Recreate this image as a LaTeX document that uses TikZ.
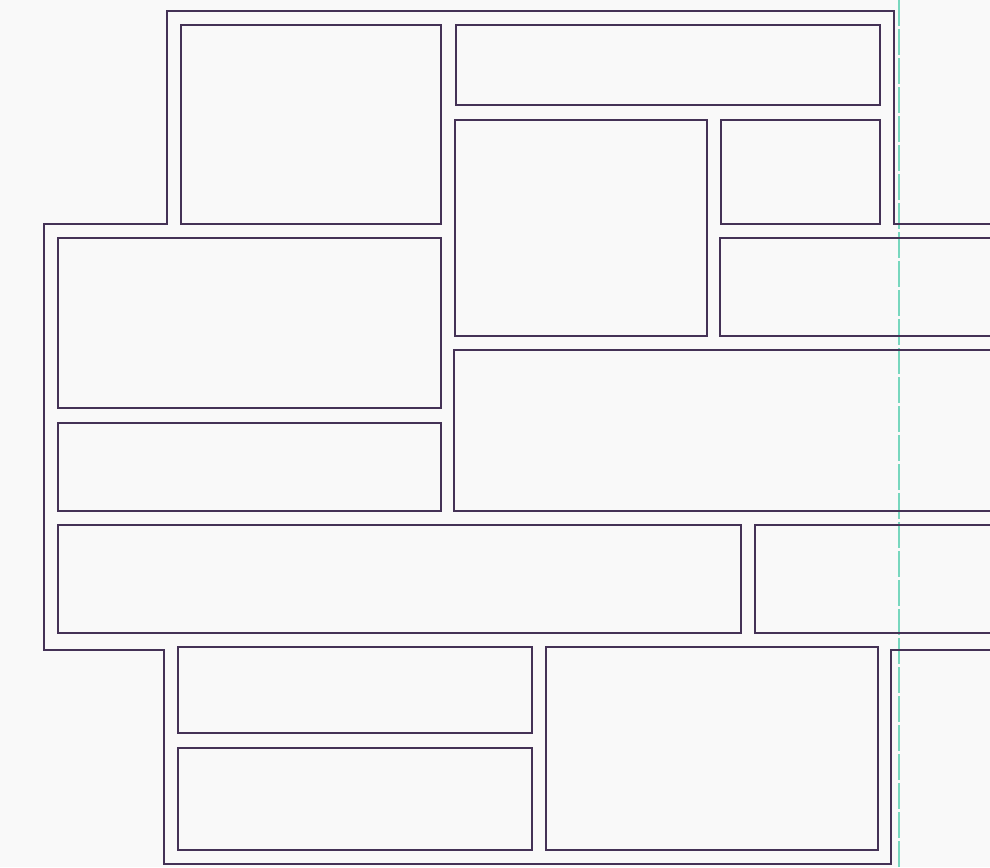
\documentclass[tikz,border=0pt]{standalone}
\usepackage{xcolor}
\definecolor{wall}{RGB}{68,50,86}
\definecolor{paper}{RGB}{249,249,249}
\definecolor{guide}{RGB}{120,215,190}
\begin{document}
\begin{tikzpicture}[x=1pt,y=-1pt,
  wallline/.style={draw=wall,line width=2.7pt,line join=miter},
  room/.style={wallline},
  guideline/.style={draw=guide,line width=1.2pt,dash pattern=on 26pt off 3pt}]
\useasboundingbox (0,0) rectangle (990,867);
\fill[paper] (0,0) rectangle (990,867);
\clip (0,0) rectangle (990,867);
% guide line
\draw[guideline] (899,0) -- (899,867);
% outer outline (right side runs off the picture)
\draw[wallline] (1005,224) -- (894,224) -- (894,11) -- (167,11) -- (167,224)
  -- (44,224) -- (44,650) -- (164,650) -- (164,864) -- (891,864)
  -- (891,650) -- (1005,650);
% rooms
\draw[room] (181,25) rectangle (441,224);
\draw[room] (456,25) rectangle (880,105);
\draw[room] (455,120) rectangle (707,336);
\draw[room] (721,120) rectangle (880,224);
\draw[room] (1005,238) -- (720,238) -- (720,336) -- (1005,336);
\draw[room] (58,238) rectangle (441,408);
\draw[room] (1005,350) -- (454,350) -- (454,511) -- (1005,511);
\draw[room] (58,423) rectangle (441,511);
\draw[room] (58,525) rectangle (741,633);
\draw[room] (1005,525) -- (755,525) -- (755,633) -- (1005,633);
\draw[room] (178,647) rectangle (532,733);
\draw[room] (178,748) rectangle (532,850);
\draw[room] (546,647) rectangle (878,850);
\end{tikzpicture}
\end{document}
